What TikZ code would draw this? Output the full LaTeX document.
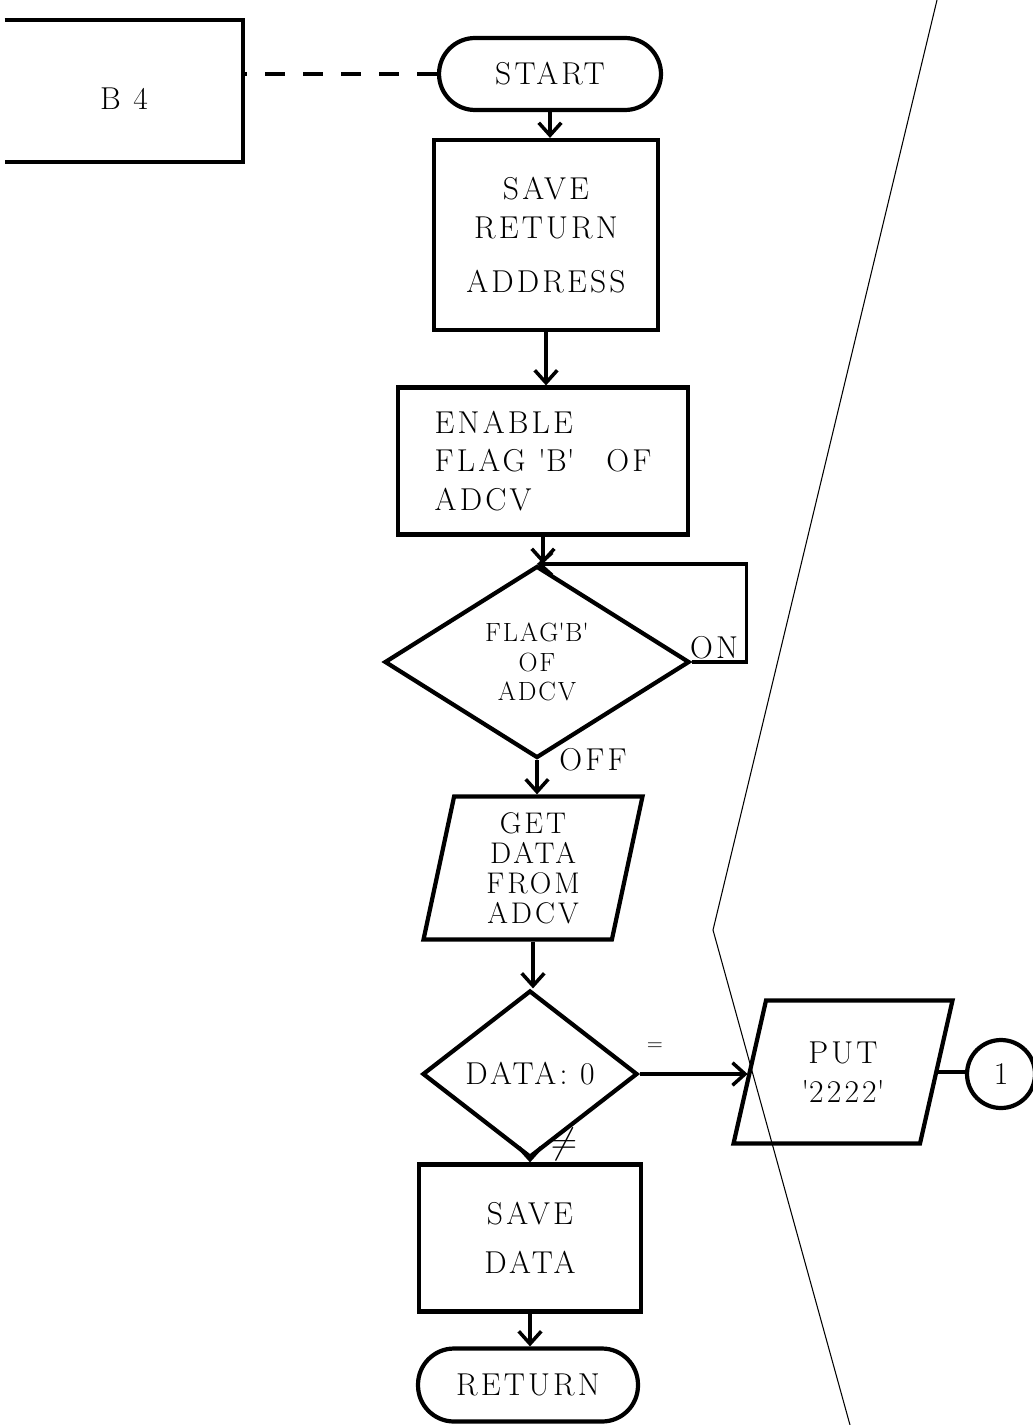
\documentclass[tikz,border=0pt]{standalone}
\usepackage{fontspec}
\setmainfont{Latin Modern Roman}
\usepackage{tikz}
\usetikzlibrary{shapes.geometric, arrows.meta, positioning, calc}

\newcommand{\sq}{\textquotesingle}

\begin{document}
\begin{tikzpicture}[x=0.02cm, y=-0.02cm,
  lbl/.style={font=\fontsize{18}{22}\selectfont\addfontfeatures{LetterSpace=10}},
  lblget/.style={font=\fontsize{17}{17}\selectfont\addfontfeatures{LetterSpace=10}},
  lblsm/.style={font=\fontsize{15}{17}\selectfont\addfontfeatures{LetterSpace=7}},
  proc/.style={draw, line width=2.4pt, align=center, lbl},
  term/.style={proc, rounded corners=0.72cm},
  dec/.style={draw, diamond, line width=2.4pt, align=center, inner sep=0pt, lblsm},
  io/.style={draw, trapezium, trapezium left angle=76, trapezium right angle=104,
             trapezium stretches body=true, line width=2.4pt, align=center, lbl},
  arr/.style={-{Straight Barb[length=2.5mm,width=4.5mm]}, line width=2pt},
  ln/.style={line width=2pt}
]
\useasboundingbox (0,0) rectangle (1032,1425);

%% ── Page edge
\draw[line width=0.6pt] (937,0) -- (713,930) -- (850,1425);

%% ── Off-page block
\node[lbl, minimum width=4.76cm, minimum height=2.84cm, text height=0.75cm] (b4) at (124,91) {B 4};
\draw[line width=2.4pt] (b4.north west) -- (b4.north east) -- (b4.south east) -- (b4.south west);

%% ── Main column
\node[term, minimum width=4.44cm, minimum height=1.44cm] (start) at (550,74) {START};
\node[proc, minimum width=4.48cm, minimum height=3.8cm] (saveret) at (546,235)
  {SAVE\\RETURN\\[0.3cm]ADDRESS};
\node[proc, align=left, minimum width=5.8cm, minimum height=2.94cm] (enable) at (543,461)
  {ENABLE\\FLAG \sq B\sq\quad OF\\ADCV};
\node[dec, aspect=1.59, minimum width=6.1cm, minimum height=3.84cm] (flag) at (537,662)
  {FLAG\sq B\sq\\OF\\ADCV};
\node[io, lblget, minimum width=4.38cm, minimum height=2.86cm] (get) at (533,868)
  {GET\\DATA\\FROM\\ADCV};
\node[dec, lbl, aspect=1.29, minimum width=4.3cm, minimum height=3.34cm] (zero) at (530,1074)
  {DATA: 0};
\node[proc, minimum width=4.44cm, minimum height=2.94cm] (savedata) at (530,1238)
  {SAVE\\[0.2cm]DATA};
\node[term, minimum width=4.4cm, minimum height=1.46cm] (ret) at (528,1385) {RETURN};

%% ── Side branch
\node[io, inner ysep=0.7cm, minimum width=4.38cm, minimum height=2.86cm] (put) at (843,1072)
  {PUT\\\sq 2222\sq};
\node[draw, circle, line width=2.4pt, minimum size=1.36cm, inner sep=0pt, lbl] (conn) at (1001,1074) {1};

%% ── Connectors
\draw[line width=2.4pt, dash pattern=on 0.4cm off 0.36cm] (start.west) -- (start.west -| b4.east);
\draw[arr] (start.south) -- (start.south |- saveret.north);
\draw[arr] (saveret.south) -- (saveret.south |- enable.north);
\draw[arr] (enable.south) -- (enable.south |- flag.north);
\draw[arr] (flag.east) -- ++(55,0) |- (flag.north);
\draw[arr] (flag.south) -- (flag.south |- get.north);
\draw[arr] (get.south) -- (get.south |- zero.north);
\draw[arr] (zero.east) -- (zero.east -| put.west);
\draw[arr] (zero.south) -- (zero.south |- savedata.north);
\draw[arr] (savedata.south) -- (savedata.south |- ret.north);
\draw[ln] (put.east) -- (put.east -| conn.west);

%% ── Branch labels
\node[lbl] (on) at (714,648) {ON};
\node[lbl] (off) at (593,760) {OFF};
\node[font=\fontsize{12}{14}\selectfont] (eq) at (655,1047) {=};
\node[font=\fontsize{20}{22}\selectfont] (neq) at (564,1144) {$\neq$};

\end{tikzpicture}
\end{document}
